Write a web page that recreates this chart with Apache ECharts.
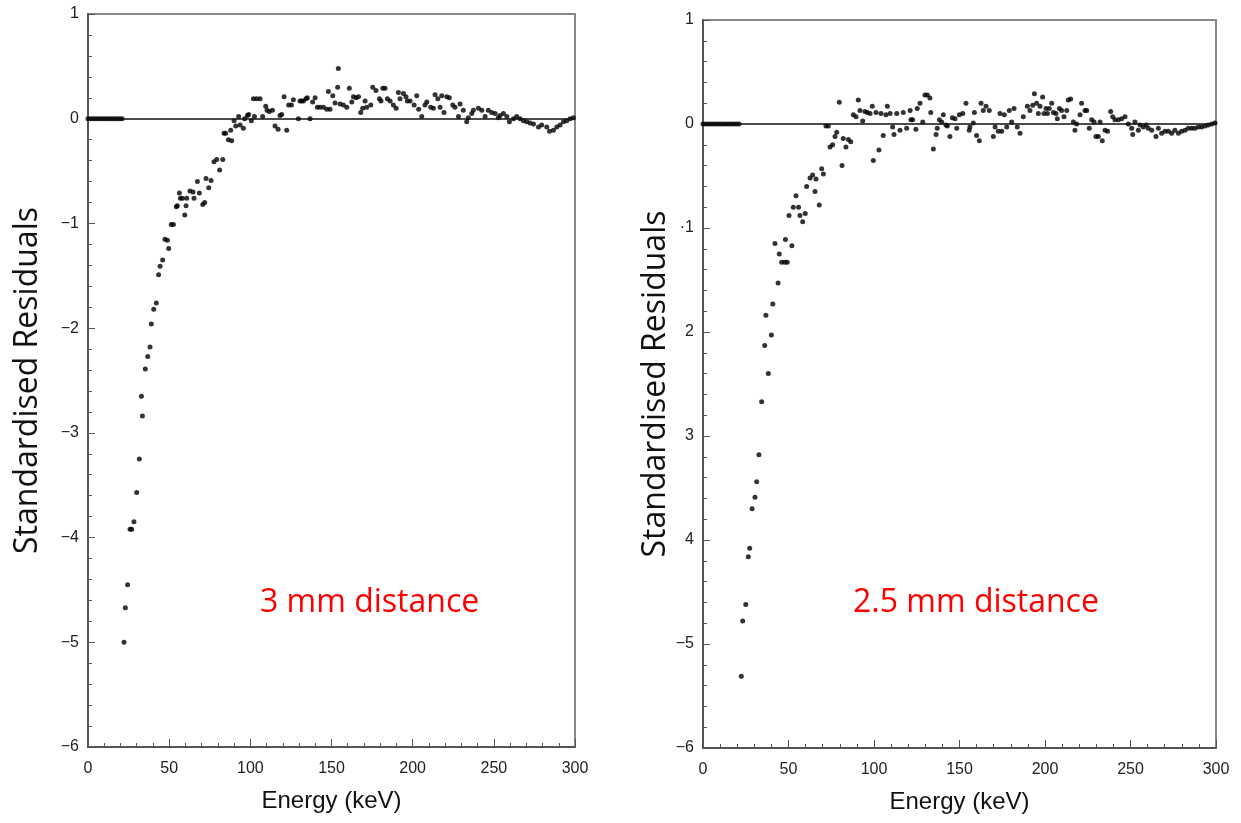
<!DOCTYPE html>
<html>
<head>
<meta charset="utf-8">
<title>Standardised Residuals</title>
<script src="https://cdn.jsdelivr.net/npm/echarts@6/dist/echarts.min.js"></script>
<style>
  html, body { margin: 0; padding: 0; background: #fff; }
  #chart { width: 1241px; height: 823px; }
</style>
</head>
<body>
<div id="chart"></div>
<script>
// x ticks (keV) and y ticks shared by both panels
var energyTicks = [0, 50, 100, 150, 200, 250, 300];
var residualTicks = [-6, -5, -4, -3, -2, -1, 0, 1];
// the right panel's tick labels as printed (some minus signs are lost)
var rightTickLabels = ["−6", "−5", "4", "3", "2", "·1", "0", "1"];

// 3 mm distance
var leftEnergy = [0, 1.5, 3, 4.5, 6, 7.5, 9, 10.5, 12, 13.5, 15, 16.5, 18, 19.5, 21,
  22.2, 23.0, 24.4, 25.9, 26.9, 28.3, 30.0, 31.6, 32.9, 33.5, 35.3, 36.8, 38.2, 39.0, 40.5,
  42.1, 43.5, 44.4, 46.0, 47.4, 48.9, 49.7, 51.3, 52.6, 54.4, 55.0, 56.3, 56.9, 58.1, 59.6,
  60.4, 60.8, 62.8, 64.7, 65.3, 67.4, 68.6, 70.7, 71.9, 72.7, 74.4, 75.8, 77.6, 79.3, 81.1,
  83.0, 83.8, 84.8, 86.5, 87.9, 88.5, 90.0, 91.0, 92.8, 93.7, 95.7, 96.5, 98.2, 99.0, 100.6,
  101.9, 102.5, 103.9, 106.0, 107.6, 109.5, 110.3, 111.7, 113.6, 115.2, 117.1, 118.3, 119.3, 120.8, 122.4,
  123.6, 125.3, 126.5, 129.6, 130.6, 131.6, 132.7, 134.3, 135.1, 136.8, 138.4, 139.9, 141.3, 142.9, 145.0,
  147.1, 148.1, 149.1, 150.8, 152.2, 153.8, 154.2, 155.3, 157.3, 159.4, 161.0, 162.5, 163.5, 165.1, 166.6,
  168.0, 169.2, 170.7, 171.7, 174.2, 175.4, 177.4, 179.5, 180.5, 181.6, 183.0, 184.4, 186.1, 188.1, 189.8,
  191.2, 192.2, 194.3, 195.9, 196.7, 198.4, 200.9, 202.5, 203.7, 205.6, 207.6, 208.7, 211.1, 212.8, 213.8,
  215.5, 216.9, 217.9, 219.3, 221.0, 222.6, 224.7, 226.1, 228.2, 229.2, 231.2, 233.3, 234.3, 236.4, 237.4,
  240.5, 242.6, 244.6, 246.6, 248.7, 250.8, 252.8, 253.8, 255.9, 258.0, 259.6, 262.1, 264.1, 266.2, 268.2,
  270.3, 272.3, 274.4, 277.5, 279.5, 282.6, 284.3, 286.7, 288.8, 290.8, 292.9, 294.9, 297.0, 299.0];
var leftResidual = [0, 0, 0, 0, 0, 0, 0, 0, 0, 0, 0, 0, 0, 0, 0,
  -5.0, -4.67, -4.45, -3.92, -3.92, -3.85, -3.57, -3.25, -2.65, -2.84, -2.39, -2.27, -2.18, -1.96, -1.82,
  -1.76, -1.49, -1.41, -1.35, -1.15, -1.16, -1.24, -1.01, -1.01, -0.84, -0.83, -0.71, -0.76, -0.76, -0.92,
  -0.83, -0.76, -0.69, -0.70, -0.76, -0.60, -0.71, -0.82, -0.80, -0.57, -0.66, -0.59, -0.41, -0.39, -0.49,
  -0.39, -0.14, -0.14, -0.20, -0.11, -0.21, -0.02, -0.07, 0.02, -0.06, -0.09, 0, 0.03, 0.04, -0.02,
  0.19, 0.02, 0.19, 0.19, 0.02, 0.12, 0.08, 0.07, 0.08, -0.07, -0.10, 0.03, 0.04, 0.21, -0.11,
  0.13, 0.13, 0.18, 0, 0.17, 0.17, 0.17, 0.19, 0.20, 0, 0.16, 0.20, 0.11, 0.11, 0.11,
  0.09, 0.26, 0.09, 0.22, 0.15, 0.30, 0.48, 0.14, 0.13, 0.11, 0.29, 0.16, 0.21, 0.20, 0.21,
  0.06, 0.10, 0.17, 0.11, 0.13, 0.30, 0.27, 0.19, 0.17, 0.29, 0.29, 0.19, 0.17, 0.13, 0.10,
  0.25, 0.19, 0.24, 0.21, 0.17, 0.17, 0.13, 0.22, 0.09, 0.02, 0.13, 0.16, 0.11, 0.10, 0.23,
  0.19, 0.11, 0.22, 0.06, 0.21, 0.20, 0.13, 0.11, 0.02, 0.14, 0.08, -0.03, 0.01, 0.05, 0.08,
  0.10, 0.08, 0.02, 0.08, 0.06, 0.05, 0.01, 0.03, 0.05, 0.02, -0.03, 0, 0.02, 0, -0.02,
  -0.03, -0.04, -0.05, -0.08, -0.06, -0.08, -0.12, -0.11, -0.08, -0.06, -0.03, -0.02, 0, 0.01];

// 2.5 mm distance
var rightEnergy = [0, 1.5, 3, 4.5, 6, 7.5, 9, 10.5, 12, 13.5, 15, 16.5, 18, 19.5, 21,
  22.4, 23.2, 25.0, 26.5, 27.3, 28.7, 30.4, 31.4, 32.7, 34.3, 36.1, 36.8, 38.2, 40.0, 40.8,
  42.1, 43.9, 44.6, 46.0, 47.9, 48.2, 49.3, 50.3, 52.0, 52.8, 54.4, 55.9, 56.7, 58.3, 59.8,
  60.6, 62.6, 64.1, 65.5, 66.1, 68.0, 69.4, 70.4, 71.9, 73.3, 74.3, 75.8, 77.2, 78.2, 79.7,
  81.3, 82.0, 83.6, 85.0, 86.4, 87.9, 89.5, 90.8, 91.8, 93.4, 94.7, 96.1, 97.7, 99.0, 99.6,
  101.2, 102.9, 104.1, 105.4, 107.0, 107.8, 109.4, 110.9, 111.7, 113.3, 115.2, 117.1, 119.1, 121.1, 121.6,
  122.6, 124.5, 125.3, 126.9, 128.5, 129.8, 131.2, 132.7, 133.2, 134.7, 136.3, 137.0, 138.2, 139.6, 140.5,
  142.1, 142.9, 144.4, 145.8, 147.4, 148.4, 149.9, 151.9, 153.8, 155.7, 156.1, 158.1, 158.7, 160.0, 161.6,
  162.6, 163.9, 165.5, 167.4, 169.8, 170.8, 172.7, 173.7, 174.7, 176.2, 177.6, 179.1, 180.5, 181.9, 183.8,
  185.4, 187.3, 189.7, 191.2, 192.8, 193.8, 195.1, 196.1, 197.1, 198.6, 199.4, 200.6, 201.4, 202.5, 203.9,
  204.9, 206.4, 207.2, 208.4, 209.7, 211.1, 212.7, 213.6, 215.0, 216.6, 217.5, 218.5, 220.5, 221.4, 223.4,
  224.4, 225.9, 227.3, 228.7, 229.8, 231.2, 232.2, 233.5, 235.1, 236.6, 238.4, 239.6, 240.9, 242.9, 244.8,
  246.8, 248.7, 250.7, 251.3, 252.6, 254.6, 255.6, 257.5, 259.1, 260.4, 262.4, 264.9, 266.3, 268.2, 270.2,
  272.1, 274.1, 276.0, 278.0, 279.9, 281.9, 283.8, 285.8, 287.7, 289.7, 291.6, 293.6, 295.5, 297.5, 299.4];
var rightResidual = [0, 0, 0, 0, 0, 0, 0, 0, 0, 0, 0, 0, 0, 0, 0,
  -5.31, -4.78, -4.62, -4.16, -4.08, -3.70, -3.59, -3.44, -3.18, -2.67, -2.13, -1.84, -2.40, -2.03, -1.73,
  -1.15, -1.53, -1.25, -1.33, -1.33, -1.11, -1.33, -0.88, -1.17, -0.80, -0.69, -0.80, -0.88, -0.94, -0.86,
  -0.60, -0.52, -0.49, -0.65, -0.53, -0.78, -0.43, -0.48, -0.02, -0.02, -0.22, -0.20, -0.12, -0.08, 0.21,
  -0.40, -0.14, -0.22, -0.15, -0.17, 0.09, 0.07, 0.23, 0.13, 0.03, 0.12, 0.11, 0.10, 0.17, -0.35,
  0.11, -0.25, 0.10, -0.11, 0.09, 0.17, 0.10, -0.03, -0.10, 0.10, -0.06, 0.11, -0.04, 0.13, 0.04,
  0.04, -0.05, 0.15, 0.20, 0.02, 0.28, 0.28, 0.25, 0.11, -0.24, -0.10, -0.04, 0.04, 0.02, 0.09,
  -0.01, -0.02, -0.12, 0.06, 0.05, -0.04, 0.09, 0.10, 0.20, -0.06, -0.03, 0.01, 0.11, -0.11, -0.16,
  0.20, 0.13, 0.17, 0.13, -0.12, -0.03, -0.07, 0.10, -0.07, 0.09, -0.03, 0.13, 0.02, 0.15, -0.03,
  -0.09, 0.07, 0.17, 0.13, 0.18, 0.29, 0.20, 0.10, 0.17, 0.26, 0.10, 0.15, 0.10, 0.15, 0.20,
  0.11, 0.10, 0.05, 0.15, 0.13, 0.07, 0.13, 0.23, 0.24, 0.02, -0.06, 0.00, 0.09, 0.20, 0.13,
  0.13, -0.04, 0.04, 0.02, -0.12, -0.12, 0.02, -0.16, -0.06, -0.07, 0.12, 0.07, 0.04, 0.04, 0.05,
  0.07, 0.00, -0.04, -0.10, 0.02, -0.06, -0.01, -0.03, -0.01, -0.04, -0.06, -0.12, -0.04, -0.09, -0.07,
  -0.07, -0.09, -0.06, -0.09, -0.07, -0.06, -0.04, -0.04, -0.04, -0.03, -0.03, -0.02, -0.01, 0.00, 0.01];

function pairs(xs, ys) {
  return xs.map(function (x, i) { return [x, ys[i]]; });
}

function minusLabel(v) {
  return v < 0 ? "−" + Math.abs(v) : String(v);
}

var axisGrey = "#555";

function xAxisFor(gridIndex) {
  return {
    type: "value",
    gridIndex: gridIndex,
    min: energyTicks[0],
    max: energyTicks[energyTicks.length - 1],
    interval: energyTicks[1] - energyTicks[0],
    name: "Energy (keV)",
    nameLocation: "middle",
    nameGap: 42,
    nameTextStyle: { fontFamily: "Liberation Sans", fontSize: 24, color: "#111" },
    axisLine: { onZero: false, lineStyle: { color: axisGrey, width: 2 } },
    axisTick: { inside: true, length: 8, lineStyle: { color: axisGrey, width: 1 } },
    minorTick: { show: true, splitNumber: 5, length: 4, lineStyle: { color: axisGrey, width: 1 } },
    splitLine: { show: false },
    axisLabel: { margin: 14, fontFamily: "Liberation Sans", fontSize: 16, color: "#222" }
  };
}

function yAxisFor(gridIndex, formatter, gap) {
  return {
    type: "value",
    gridIndex: gridIndex,
    min: residualTicks[0],
    max: residualTicks[residualTicks.length - 1],
    interval: 1,
    name: "Standardised Residuals",
    nameLocation: "middle",
    nameGap: gap,
    nameTextStyle: { fontFamily: "Open Sans", fontSize: 32, color: "#111" },
    axisLine: { onZero: false, lineStyle: { color: axisGrey, width: 2 } },
    axisTick: { inside: true, length: 7, lineStyle: { color: axisGrey, width: 1 } },
    minorTick: { show: true, splitNumber: 5, length: 4, lineStyle: { color: axisGrey, width: 1 } },
    splitLine: { show: false },
    axisLabel: { margin: 9, fontFamily: "Liberation Sans", fontSize: 16, color: "#222", formatter: formatter }
  };
}

function residualSeries(idx, data) {
  return {
    type: "scatter",
    xAxisIndex: idx,
    yAxisIndex: idx,
    data: data,
    symbol: "circle",
    symbolSize: 5,
    itemStyle: { color: "#000" },
    silent: true,
    markLine: {
      silent: true,
      symbol: "none",
      label: { show: false },
      lineStyle: { color: "#111", width: 1.5, type: "solid" },
      data: [{ yAxis: 0 }]
    },
    z: 3
  };
}

var chart = echarts.init(document.getElementById("chart"));
chart.setOption({
  backgroundColor: "#fff",
  animation: false,
  grid: [
    { left: 88, top: 14, width: 487, height: 733, show: true, borderColor: "#888", borderWidth: 2 },
    { left: 703, top: 20, width: 513, height: 728, show: true, borderColor: "#888", borderWidth: 2 }
  ],
  xAxis: [xAxisFor(0), xAxisFor(1)],
  yAxis: [
    yAxisFor(0, minusLabel, 44),
    yAxisFor(1, function (v) { return rightTickLabels[residualTicks.indexOf(v)]; }, 27)
  ],
  series: [
    residualSeries(0, pairs(leftEnergy, leftResidual)),
    residualSeries(1, pairs(rightEnergy, rightResidual))
  ],
  graphic: [
    {
      type: "text", left: 260, top: 587,
      style: { text: "3 mm distance", fill: "#ff0000", font: "32px 'Open Sans'" }
    },
    {
      type: "text", left: 853, top: 587,
      style: { text: "2.5 mm distance", fill: "#ff0000", font: "32px 'Open Sans'" }
    }
  ]
});
</script>
</body>
</html>
